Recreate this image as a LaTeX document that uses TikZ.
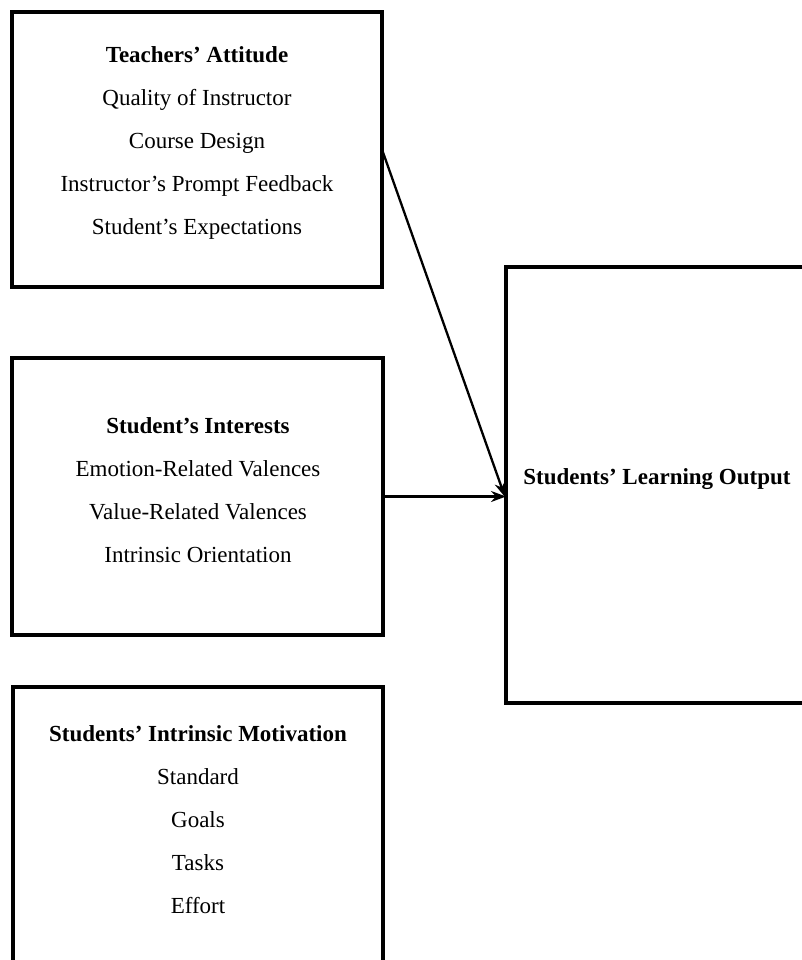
\documentclass[tikz,border=0pt]{standalone}
\usepackage{fontspec}
\setmainfont{Liberation Serif}
\usetikzlibrary{arrows.meta}
\begin{document}
\begin{tikzpicture}[x=1pt,y=-1pt,
  boxnode/.style={draw=black,line width=4pt,rectangle,inner sep=0pt,outer sep=0pt,anchor=north west},
  txt/.style={align=center,font=\fontsize{23}{43}\selectfont,inner sep=0pt},
  conn/.style={line width=2.3pt,-{Stealth[length=15pt,width=11pt]}}]
\useasboundingbox (0,0) rectangle (802,960);
\fill[white] (0,0) rectangle (802,960);
\clip (0,0) rectangle (802,960);
% boxes
\node[boxnode,minimum width=370pt,minimum height=275pt] (b1) at (12,12) {};
\node[boxnode,minimum width=371pt,minimum height=277pt] (b2) at (12,358) {};
\node[boxnode,minimum width=370pt,minimum height=330pt] (b3) at (13,687) {};
\node[boxnode,minimum width=360pt,minimum height=436pt] (rb) at (506,267) {};
% texts
\node[txt] (t1) at (197,143) {\textbf{Teachers’ Attitude}\\Quality of Instructor\\Course Design\\Instructor’s Prompt Feedback\\Student’s Expectations};
\node[txt] (t2) at (198,490) {\textbf{Student’s Interests}\\Emotion-Related Valences\\Value-Related Valences\\Intrinsic Orientation};
\node[txt] (t3) at (198,820) {\textbf{Students’ Intrinsic Motivation}\\Standard\\Goals\\Tasks\\Effort};
\node[txt] (t4) at (657,479) {\textbf{Students’ Learning Output}};
% connectors
\coordinate (tip) at (505,497);
\draw[conn] (b1.east) -- (tip);
\draw[conn] (b2.east) -- (b2.east -| rb.west);
\end{tikzpicture}
\end{document}
